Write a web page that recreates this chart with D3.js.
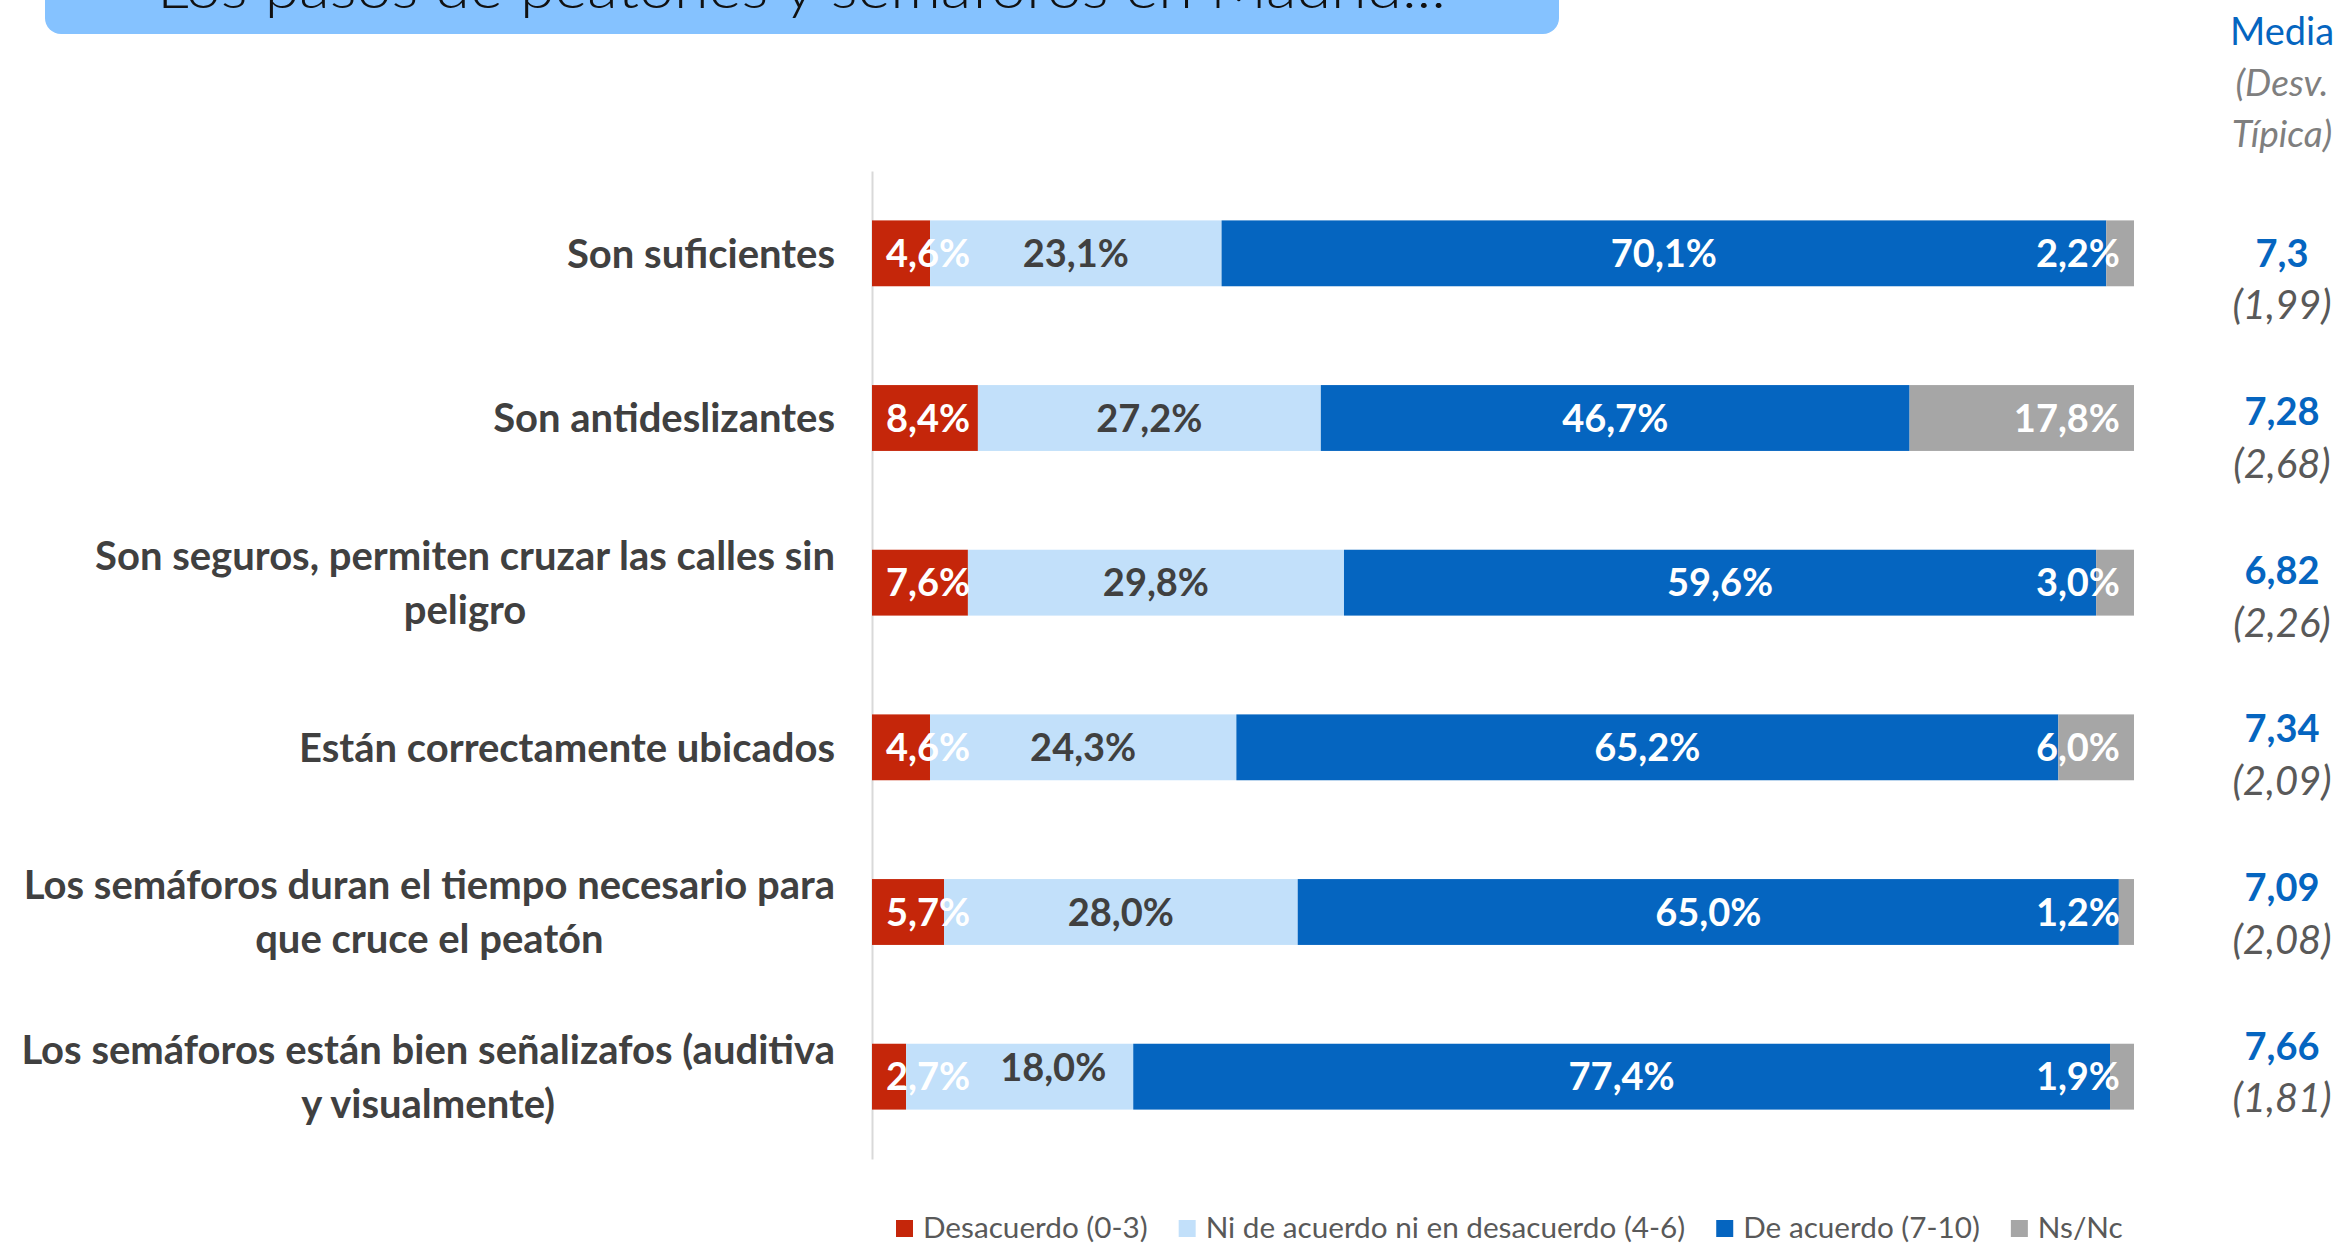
<!DOCTYPE html>
<html>
<head>
<meta charset="utf-8">
<script src="https://cdn.jsdelivr.net/npm/d3@7"></script>
<style>
  body { margin: 0; background: #fff; }
  svg { display: block; }
</style>
</head>
<body>
<div id="chart"></div>
<script>
const W = 2337, H = 1243;

// data
const categories = [
  'Son suficientes',
  'Son antideslizantes',
  'Son seguros, permiten cruzar las calles sin peligro',
  'Están correctamente ubicados',
  'Los semáforos duran el tiempo necesario para que cruce el peatón',
  'Los semáforos están bien señalizafos (auditiva y visualmente)'
];
const seriesNames = ['Desacuerdo (0-3)', 'Ni de acuerdo ni en desacuerdo (4-6)', 'De acuerdo (7-10)', 'Ns/Nc'];
const desacuerdo = [4.6, 8.4, 7.6, 4.6, 5.7, 2.7];
const neutro     = [23.1, 27.2, 29.8, 24.3, 28.0, 18.0];
const acuerdo    = [70.1, 46.7, 59.6, 65.2, 65.0, 77.4];
const nsnc       = [2.2, 17.8, 3.0, 6.0, 1.2, 1.9];
const medias = [7.3, 7.28, 6.82, 7.34, 7.09, 7.66];
const desv   = [1.99, 2.68, 2.26, 2.09, 2.08, 1.81];
const title = 'Los pasos de peatones y semáforos en Madrid...';

const colors = ['#C5260A', '#C2E0FA', '#0565C0', '#A6A6A6'];
const labelColors = ['#fff', '#404040', '#fff', '#fff'];

const rows = categories.map((c, i) => ({
  cat: c, s0: desacuerdo[i], s1: neutro[i], s2: acuerdo[i], s3: nsnc[i]
}));
const keys = ['s0', 's1', 's2', 's3'];

const stacked = d3.stack().keys(keys).offset(d3.stackOffsetExpand)(rows);

const x = d3.scaleLinear().domain([0, 1]).range([872, 2134]);
const y = d3.scaleBand().domain(categories).range([171, 1159])
  .paddingInner(0.6).paddingOuter(0.3);
// the mean column is a separate text block, a bit tighter than the bars
const yCol = d3.scalePoint().domain(categories).range([253, 1046]);

const svg = d3.select('#chart').append('svg')
  .attr('width', W).attr('height', H);

svg.append('rect').attr('width', W).attr('height', H).attr('fill', '#fff');

// title box (cut at the top)
svg.append('rect')
  .attr('x', 45).attr('y', -40).attr('width', 1514).attr('height', 74)
  .attr('rx', 16).attr('fill', '#85C2FF');
svg.append('text')
  .attr('x', 157).attr('y', 8)
  .attr('font-family', 'Lato, sans-serif').attr('font-weight', 300)
  .attr('font-size', 56).attr('fill', '#111')
  .attr('textLength', 1289).attr('lengthAdjust', 'spacingAndGlyphs')
  .text(title);

// vertical axis line
const yAxis = svg.append('g')
  .attr('transform', 'translate(' + x(0) + ',0)')
  .call(d3.axisLeft(y).tickSize(0).tickFormat(''));
yAxis.select('.domain').attr('stroke', '#D9D9D9').attr('stroke-width', 2);

// bars
const layer = svg.append('g').selectAll('g')
  .data(stacked)
  .enter().append('g')
  .attr('fill', (d, i) => colors[i]);

layer.selectAll('rect')
  .data(d => d)
  .enter().append('rect')
  .attr('x', d => x(d[0]))
  .attr('y', d => y(d.data.cat))
  .attr('width', d => x(d[1]) - x(d[0]))
  .attr('height', y.bandwidth());

// value labels
const fmtPct = v => v.toFixed(1).replace('.', ',') + '%';
categories.forEach((c, ci) => {
  let prevEnd = -Infinity;
  stacked.forEach((s, si) => {
    const d = s[ci];
    const x0 = x(d[0]), x1 = x(d[1]);
    const cy = y(c) + y.bandwidth() / 2;
    const t = svg.append('text')
      .attr('y', cy)
      .attr('dy', '0.36em')
      .attr('font-family', 'Lato, sans-serif').attr('font-weight', 700)
      .attr('font-size', 38).attr('fill', labelColors[si])
      .attr('text-anchor', 'middle')
      .text(fmtPct(d.data[keys[si]]));
    const w = t.node().getComputedTextLength();
    let cx;
    if (si === 0) cx = Math.max((x0 + x1) / 2, x0 + w / 2 + 14);
    else if (si === 3) cx = x1 - 14 - w / 2;
    else cx = (x0 + x1) / 2;
    // nudge a label that would touch the previous one
    if (si > 0 && cx - w / 2 < prevEnd + 20) {
      cx = prevEnd + 30 + w / 2;
      t.attr('y', cy - 9);
    }
    t.attr('x', cx);
    prevEnd = cx + w / 2;
  });
});

// category labels, wrapped
const catFont = 40, lineH = 54, maxW = 830;
categories.forEach(c => {
  const t = svg.append('text')
    .attr('text-anchor', 'middle')
    .attr('font-family', 'Lato, sans-serif').attr('font-weight', 700)
    .attr('font-size', catFont).attr('fill', '#404040');
  const words = c.split(' ');
  let lines = [], line = [];
  const probe = t.append('tspan');
  words.forEach(wd => {
    line.push(wd);
    probe.text(line.join(' '));
    if (probe.node().getComputedTextLength() > maxW && line.length > 1) {
      line.pop();
      lines.push(line.join(' '));
      line = [wd];
    }
  });
  lines.push(line.join(' '));
  probe.remove();
  const widths = [];
  lines.forEach(l => {
    const ts = t.append('tspan').text(l);
    widths.push(ts.node().getComputedTextLength());
  });
  const blockW = d3.max(widths);
  const cx = 835 - blockW / 2;
  const cy = y(c) + y.bandwidth() / 2;
  t.selectAll('tspan')
    .attr('x', cx)
    .attr('y', (d, i) => cy + (i - (lines.length - 1) / 2) * lineH)
    .attr('dy', '0.36em');
});

// right column: mean and standard deviation
const colX = 2282;
const head = svg.append('g').attr('font-family', 'Lato, sans-serif').attr('text-anchor', 'middle');
head.append('text').attr('x', colX).attr('y', 45).attr('font-size', 38).attr('fill', '#0565C0').text('Media');
head.append('text').attr('x', colX).attr('y', 96).attr('font-size', 37).attr('font-style', 'italic').attr('fill', '#7F7F7F').text('(Desv.');
head.append('text').attr('x', colX).attr('y', 147).attr('font-size', 37).attr('font-style', 'italic').attr('fill', '#7F7F7F').text('Típica)');

categories.forEach((c, i) => {
  const cy = yCol(c);
  head.append('text').attr('x', colX).attr('y', cy).attr('dy', '0.36em')
    .attr('font-size', 38).attr('font-weight', 700).attr('fill', '#0565C0')
    .text(String(medias[i]).replace('.', ','));
  head.append('text').attr('x', colX).attr('y', cy + 52).attr('dy', '0.36em')
    .attr('font-size', 40).attr('font-style', 'italic').attr('fill', '#595959')
    .text('(' + desv[i].toFixed(2).replace('.', ',') + ')');
});

// legend
const legend = svg.append('g').attr('font-family', 'Lato, sans-serif').attr('font-size', 29.7).attr('fill', '#595959');
let lx = 896;
seriesNames.forEach((n, i) => {
  legend.append('rect').attr('x', lx).attr('y', 1220).attr('width', 17).attr('height', 17).attr('fill', colors[i]);
  const t = legend.append('text').attr('x', lx + 27).attr('y', 1238).text(n);
  lx += 27 + t.node().getComputedTextLength() + 31;
});
</script>
</body>
</html>
